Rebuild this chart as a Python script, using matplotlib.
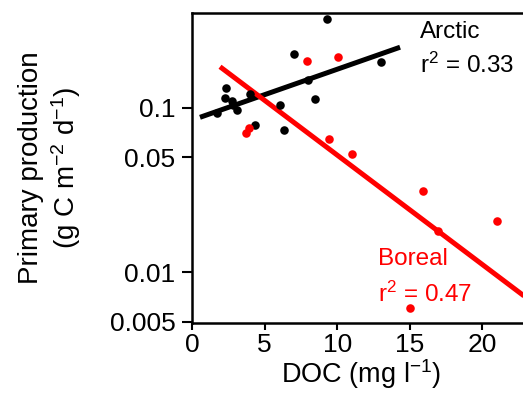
import matplotlib
matplotlib.use("Agg")
import matplotlib.pyplot as plt
import numpy as np

plt.rcParams['font.family'] = ['Liberation Sans', 'DejaVu Sans']
plt.rcParams['mathtext.fontset'] = 'custom'
plt.rcParams['mathtext.rm'] = 'Liberation Sans'
plt.rcParams['mathtext.it'] = 'Liberation Sans'

# Data (DOC in mg/l, primary production in g C m-2 d-1)
arctic_doc = [1.70, 2.34, 2.27, 2.73, 2.85, 3.08, 4.0, 4.36, 6.06, 6.36, 7.02, 8.01, 8.47, 9.30, 13.04]
arctic_pp = [0.0925, 0.132, 0.114, 0.110, 0.104, 0.097, 0.121, 0.0785, 0.104, 0.0732, 0.212, 0.147, 0.113, 0.346, 0.190]
boreal_doc = [3.72, 3.95, 7.9, 10.08, 9.46, 11.04, 15.89, 16.96, 20.98, 15.01]
boreal_pp = [0.0705, 0.0756, 0.193, 0.202, 0.0643, 0.0523, 0.0312, 0.0178, 0.0205, 0.0061]

# Fits: log10(pp) = intercept + slope * doc
arctic_fit = (-1.0755, 0.0309)
arctic_fit_range = (0.55, 14.33)
boreal_fit = (-0.623, -0.0665)
boreal_fit_range = (1.93, 24.0)

yticks = [0.1, 0.05, 0.01, 0.005]
ytick_labels = ['0.1', '0.05', '0.01', '0.005']
xticks = [0, 5, 10, 15, 20]

W, H = 523, 397
fig = plt.figure(figsize=(W / 100, H / 100), dpi=100)
left_px, right_px, top_px, bot_px = 192, 530, 13, 323
ax = fig.add_axes([left_px / W, (H - bot_px) / H, (right_px - left_px) / W, (bot_px - top_px) / H])

red = '#ff0000'
for (b0, b1), (x0, x1), c in [(arctic_fit, arctic_fit_range, 'black'), (boreal_fit, boreal_fit_range, red)]:
    xs = np.array([x0, x1])
    ax.plot(xs, 10 ** (b0 + b1 * xs), color=c, lw=3.6, solid_capstyle='butt', zorder=2)

ax.scatter(arctic_doc, arctic_pp, s=38, color='black', zorder=3, linewidths=0, clip_on=False)
ax.scatter(boreal_doc, boreal_pp, s=38, color=red, zorder=3, linewidths=0, clip_on=False)

ax.set_yscale('log')
ax.set_xlim(0, (right_px - left_px) / 14.52)
ax.set_ylim(0.00492, 0.376)
ax.set_yticks(yticks)
ax.set_yticklabels(ytick_labels)
ax.yaxis.set_minor_locator(matplotlib.ticker.NullLocator())
ax.set_xticks(xticks)

for s in ['left', 'bottom', 'top', 'right']:
    ax.spines[s].set_linewidth(1.8)
ax.tick_params(axis='both', direction='out', width=1.5, labelsize=19)
ax.tick_params(axis='y', length=7, pad=5)
ax.tick_params(axis='x', length=5, pad=2)

ax.set_xlabel('DOC (mg l$^{-1}$)', fontsize=19.5, labelpad=0)
ax.set_ylabel('Primary production\n(g C m$^{-2}$ d$^{-1}$)', fontsize=20, labelpad=19, linespacing=1.2)

ax.text(0.675, 0.919, 'Arctic', transform=ax.transAxes, fontsize=17.5, color='black', va='baseline')
ax.text(0.675, 0.806, 'r$^{2}$ = 0.33', transform=ax.transAxes, fontsize=17.5, color='black', va='baseline')
ax.text(0.550, 0.187, 'Boreal', transform=ax.transAxes, fontsize=17.5, color=red, va='baseline')
ax.text(0.550, 0.068, 'r$^{2}$ = 0.47', transform=ax.transAxes, fontsize=17.5, color=red, va='baseline')

fig.savefig('out.png', dpi=100)
